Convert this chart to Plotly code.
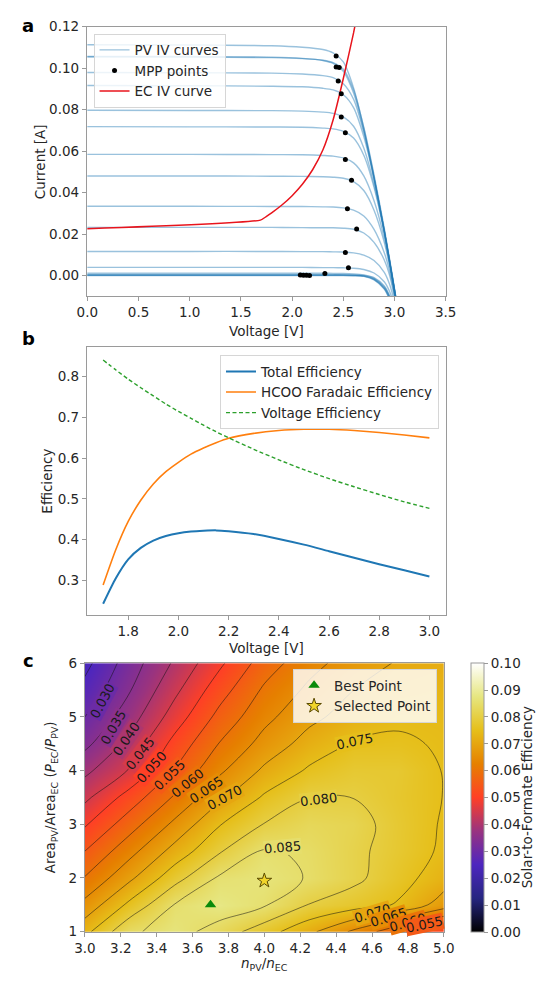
import plotly.graph_objects as go

# ---------------- Panel a data ----------------
pv_v = [0.0, 1.0, 1.8, 2.1, 2.3, 2.4, 2.5, 2.6, 2.7, 2.8, 2.9, 2.95, 3.0, 3.05]
pv_c1 = [0.1113, 0.1112, 0.1108, 0.1101, 0.1090, 0.1074, 0.1030, 0.0905, 0.0710, 0.0475, 0.0215, 0.0075, -0.0070, -0.0220]
pv_c2 = [0.1057, 0.1056, 0.1053, 0.1047, 0.1037, 0.1023, 0.0985, 0.0880, 0.0700, 0.0470, 0.0215, 0.0075, -0.0070, -0.0220]
pv_c3 = [0.1054, 0.1053, 0.1051, 0.1046, 0.1038, 0.1027, 0.0995, 0.0895, 0.0715, 0.0485, 0.0228, 0.0085, -0.0062, -0.0215]
pv_c4 = [0.0979, 0.0978, 0.0976, 0.0972, 0.0964, 0.0954, 0.0925, 0.0850, 0.0690, 0.0470, 0.0215, 0.0075, -0.0070, -0.0220]
pv_c5 = [0.0916, 0.0915, 0.0913, 0.0910, 0.0903, 0.0895, 0.0872, 0.0810, 0.0670, 0.0465, 0.0215, 0.0075, -0.0070, -0.0220]
pv_c6 = [0.0797, 0.0796, 0.0795, 0.0793, 0.0788, 0.0782, 0.0765, 0.0720, 0.0615, 0.0440, 0.0210, 0.0072, -0.0072, -0.0222]
pv_c7 = [0.0718, 0.0717, 0.0716, 0.0715, 0.0711, 0.0707, 0.0695, 0.0663, 0.0580, 0.0425, 0.0205, 0.0070, -0.0074, -0.0224]
pv_c8 = [0.0584, 0.0584, 0.0583, 0.0582, 0.0579, 0.0576, 0.0567, 0.0543, 0.0480, 0.0360, 0.0180, 0.0060, -0.0080, -0.0228]
pv_c9 = [0.0480, 0.0480, 0.0479, 0.0478, 0.0476, 0.0474, 0.0469, 0.0453, 0.0410, 0.0315, 0.0160, 0.0050, -0.0085, -0.0232]
pv_c10 = [0.0334, 0.0334, 0.0333, 0.0333, 0.0331, 0.0330, 0.0326, 0.0315, 0.0287, 0.0222, 0.0110, 0.0025, -0.0095, -0.0240]
pv_c11 = [0.0232, 0.0232, 0.0232, 0.0231, 0.0230, 0.0230, 0.0228, 0.0223, 0.0205, 0.0160, 0.0075, 0.0005, -0.0105, -0.0245]
pv_c12 = [0.0116, 0.0116, 0.0116, 0.0115, 0.0115, 0.0114, 0.0113, 0.0109, 0.0098, 0.0072, 0.0015, -0.0040, -0.0130, -0.0260]
pv_c13 = [0.0039, 0.0039, 0.0039, 0.0039, 0.0038, 0.0038, 0.0037, 0.0035, 0.0029, 0.0012, -0.0030, -0.0075, -0.0150, -0.0270]
pv_c14 = [0.0011, 0.0011, 0.0011, 0.0011, 0.0011, 0.0010, 0.0010, 0.0008, 0.0003, -0.0010, -0.0050, -0.0095, -0.0165, -0.0280]
pv_c15 = [0.0004, 0.0004, 0.0004, 0.0004, 0.0004, 0.0004, 0.0004, 0.0003, 0.0000, -0.0014, -0.0055, -0.0100, -0.0170, -0.0285]
pv_c16 = [0.0002, 0.0002, 0.0002, 0.0002, 0.0002, 0.0002, 0.0002, 0.0001, -0.0002, -0.0017, -0.0060, -0.0105, -0.0175, -0.0290]
pv_c17 = [0.0001, 0.0001, 0.0001, 0.0001, 0.0001, 0.0001, 0.0001, 0.0000, -0.0003, -0.0019, -0.0063, -0.0110, -0.0180, -0.0295]
pv_c18 = [0.0000, 0.0000, 0.0000, 0.0000, 0.0000, 0.0000, 0.0000, -0.0001, -0.0004, -0.0021, -0.0066, -0.0113, -0.0185, -0.0300]
pv_curves = [pv_c1, pv_c2, pv_c3, pv_c4, pv_c5, pv_c6, pv_c7, pv_c8, pv_c9,
             pv_c10, pv_c11, pv_c12, pv_c13, pv_c14, pv_c15, pv_c16, pv_c17, pv_c18]

mpp_v = [2.43, 2.43, 2.46, 2.45, 2.48, 2.48, 2.52, 2.52, 2.58, 2.54, 2.63, 2.52, 2.55, 2.32, 2.08, 2.11, 2.14, 2.17]
mpp_i = [0.1059, 0.1006, 0.1003, 0.0938, 0.0876, 0.0764, 0.0688, 0.0560, 0.0459, 0.0322, 0.0224, 0.0111, 0.0037, 0.0010, 0.0002, 0.0001, 0.0001, 0.0000]

ec_v = [0.0, 1.69, 1.75, 1.8, 1.9, 2.0, 2.1, 2.2, 2.3, 2.4, 2.5, 2.6, 2.7]
ec_i = [0.0225, 0.0267, 0.0285, 0.0302, 0.0340, 0.0385, 0.0440, 0.0510, 0.0605, 0.0750, 0.0950, 0.1170, 0.1420]

# ---------------- Panel b data ----------------
eff_v = [1.7, 1.75, 1.8, 1.85, 1.9, 1.95, 2.0, 2.05, 2.1, 2.15, 2.2, 2.3, 2.4, 2.5, 2.6, 2.7, 2.8, 2.9, 3.0]
total_eff = [0.243, 0.305, 0.352, 0.380, 0.398, 0.409, 0.416, 0.420, 0.422, 0.423, 0.421, 0.414, 0.402, 0.388, 0.372, 0.356, 0.340, 0.325, 0.310]
hcoo_fe = [0.289, 0.375, 0.445, 0.497, 0.537, 0.567, 0.590, 0.610, 0.625, 0.638, 0.649, 0.661, 0.668, 0.671, 0.671, 0.668, 0.663, 0.657, 0.650]
voltage_eff = [0.841, 0.817, 0.794, 0.773, 0.753, 0.733, 0.715, 0.698, 0.681, 0.665, 0.650, 0.622, 0.596, 0.572, 0.550, 0.530, 0.511, 0.493, 0.477]

# ---------------- Panel c data ----------------
ratio_n = [3.0, 3.25, 3.5, 3.75, 4.0, 4.25, 4.5, 4.75, 5.0]
area_ratio = [1.0, 1.5, 2.0, 2.5, 3.0, 3.5, 4.0, 4.5, 5.0, 5.5, 6.0]
ste = [
    [0.0735, 0.0842, 0.0870, 0.0829, 0.0772, 0.0712, 0.0640, 0.0560, 0.0500],
    [0.0665, 0.0762, 0.0852, 0.0880, 0.0855, 0.0798, 0.0773, 0.0745, 0.0675],
    [0.0603, 0.0690, 0.0781, 0.0857, 0.0868, 0.0847, 0.0812, 0.0768, 0.0725],
    [0.0550, 0.0633, 0.0718, 0.0795, 0.0855, 0.0843, 0.0812, 0.0778, 0.0742],
    [0.0494, 0.0578, 0.0661, 0.0747, 0.0802, 0.0828, 0.0818, 0.0780, 0.0745],
    [0.0438, 0.0522, 0.0606, 0.0689, 0.0757, 0.0799, 0.0799, 0.0775, 0.0749],
    [0.0388, 0.0454, 0.0554, 0.0641, 0.0709, 0.0757, 0.0780, 0.0778, 0.0748],
    [0.0337, 0.0415, 0.0516, 0.0602, 0.0668, 0.0720, 0.0755, 0.0757, 0.0745],
    [0.0300, 0.0377, 0.0473, 0.0565, 0.0636, 0.0687, 0.0722, 0.0742, 0.0740],
    [0.0265, 0.0347, 0.0438, 0.0528, 0.0608, 0.0660, 0.0700, 0.0722, 0.0730],
    [0.0235, 0.0325, 0.0407, 0.0490, 0.0574, 0.0633, 0.0674, 0.0705, 0.0715],
]
best_x, best_y = [3.7], [1.5]
sel_x, sel_y = [4.0], [1.95]
cbar_ticks = [0.00, 0.01, 0.02, 0.03, 0.04, 0.05, 0.06, 0.07, 0.08, 0.09, 0.10]

# contour label values and where they sit
clabel_val = [0.030, 0.035, 0.040, 0.045, 0.050, 0.055, 0.060, 0.065, 0.070,
              0.075, 0.080, 0.085, 0.070, 0.065, 0.060, 0.055]
clabel_x = [3.096, 3.159, 3.23, 3.31, 3.37, 3.47, 3.57, 3.68, 3.78,
            4.50, 4.30, 4.10, 4.60, 4.69, 4.80, 4.895]
clabel_y = [5.29, 4.80, 4.58, 4.31, 4.06, 3.91, 3.76, 3.64, 3.50,
            4.55, 3.46, 2.56, 1.33, 1.26, 1.18, 1.13]
clabel_ang = [-62, -60, -56, -52, -48, -44, -39, -34, -29,
              -12, -7, -5, -17, -17, -16, -12]

cmrmap = [
    [0.000, (0, 0, 0)], [0.125, (38, 38, 128)], [0.250, (77, 38, 191)],
    [0.375, (153, 51, 128)], [0.500, (255, 64, 38)], [0.625, (230, 128, 0)],
    [0.750, (230, 191, 26)], [0.875, (230, 230, 128)], [1.000, (255, 255, 255)],
]
cmr_scale = [[p, 'rgb(%d,%d,%d)' % c] for p, c in cmrmap]


def cmr_color(t):
    for (p0, c0), (p1, c1) in zip(cmrmap[:-1], cmrmap[1:]):
        if p0 <= t <= p1:
            f = (t - p0) / (p1 - p0)
            return 'rgb(%d,%d,%d)' % tuple(round(a + (b - a) * f) for a, b in zip(c0, c1))
    return 'rgb(255,255,255)'


W, H = 545, 982
FONT = "DejaVu Sans"
TXT = '#262626'
AX = '#9a9a9a'
FS = 13.5


def px(x):
    return x / W


def py(y):
    return 1 - y / H


fig = go.Figure()

# Panel a traces
for k, cur in enumerate(pv_curves):
    fig.add_trace(go.Scatter(
        x=pv_v, y=cur, mode='lines', line=dict(color='rgba(31,119,180,0.45)', width=1.4, shape='spline', smoothing=0.8),
        name='PV IV curves', legendgroup='pv', showlegend=(k == 0), legend='legend', legendrank=1,
        xaxis='x', yaxis='y', hoverinfo='skip'))
fig.add_trace(go.Scatter(
    x=ec_v, y=ec_i, mode='lines', line=dict(color='#e8141c', width=1.5, shape='spline', smoothing=0.5),
    name='EC IV curve', legend='legend', legendrank=3, xaxis='x', yaxis='y'))
fig.add_trace(go.Scatter(
    x=mpp_v, y=mpp_i, mode='markers', marker=dict(color='black', size=5),
    name='MPP points', legend='legend', legendrank=2, xaxis='x', yaxis='y'))

# Panel b traces
fig.add_trace(go.Scatter(x=eff_v, y=total_eff, mode='lines', name='Total Efficiency',
                         line=dict(color='#1f77b4', width=2, shape='spline', smoothing=0.6),
                         legend='legend2', xaxis='x2', yaxis='y2'))
fig.add_trace(go.Scatter(x=eff_v, y=hcoo_fe, mode='lines', name='HCOO Faradaic Efficiency',
                         line=dict(color='#ff7f0e', width=1.6, shape='spline', smoothing=0.6),
                         legend='legend2', xaxis='x2', yaxis='y2'))
fig.add_trace(go.Scatter(x=eff_v, y=voltage_eff, mode='lines', name='Voltage Efficiency',
                         line=dict(color='#2ca02c', width=1.4, dash='4px,2.5px', shape='spline', smoothing=0.6),
                         legend='legend2', xaxis='x2', yaxis='y2'))

# Panel c traces
fig.add_trace(go.Heatmap(
    x=ratio_n, y=area_ratio, z=ste, zmin=0, zmax=0.1, zsmooth='best', colorscale=cmr_scale,
    xaxis='x3', yaxis='y3', hoverinfo='skip',
    colorbar=dict(x=px(479), xanchor='left', xpad=0, ypad=0, y=py(666), yanchor='top', len=273 / H,
                  lenmode='fraction', thickness=13, thicknessmode='pixels', tickvals=cbar_ticks,
                  ticktext=['%.2f' % t for t in cbar_ticks], ticks='outside', ticklen=4, tickcolor=AX,
                  outlinecolor=AX, outlinewidth=1, tickfont=dict(family=FONT, size=FS, color=TXT))))
fig.add_trace(go.Contour(
    x=ratio_n, y=area_ratio, z=ste, xaxis='x3', yaxis='y3', showscale=False, hoverinfo='skip',
    contours=dict(start=0.025, end=0.085, size=0.005, coloring='lines', showlabels=False),
    colorscale=[[0, 'rgba(20,20,20,0.65)'], [1, 'rgba(20,20,20,0.65)']],
    line=dict(width=0.8, smoothing=1.0), showlegend=False))
fig.add_trace(go.Scatter(x=best_x, y=best_y, mode='markers', name='Best Point',
                         marker=dict(symbol='triangle-up', size=10, color='#0a8a0a'),
                         legend='legend3', xaxis='x3', yaxis='y3'))
fig.add_trace(go.Scatter(x=sel_x, y=sel_y, mode='markers', name='Selected Point',
                         marker=dict(symbol='star', size=11, color='#f2d52a', line=dict(color='#5a4a00', width=1)),
                         legend='legend3', xaxis='x3', yaxis='y3'))

axis_common = dict(showline=True, mirror=True, linecolor=AX, linewidth=1, ticks='outside', ticklen=4,
                   tickcolor=AX, showgrid=False, zeroline=False,
                   tickfont=dict(family=FONT, size=FS, color=TXT))

legend_common = dict(font=dict(family=FONT, size=FS, color=TXT), bgcolor='rgba(255,255,255,0.82)',
                     bordercolor='#d6d6d6', borderwidth=1, itemwidth=30, tracegroupgap=0)

fig.update_layout(
    width=W, height=H, margin=dict(l=0, r=0, t=0, b=0),
    paper_bgcolor='white', plot_bgcolor='white',
    font=dict(family=FONT, size=FS, color=TXT),
    xaxis=dict(domain=[px(79), px(453)], range=[-0.005, 3.5], anchor='y',
               tickvals=[0.0, 0.5, 1.0, 1.5, 2.0, 2.5, 3.0, 3.5], tickformat='.1f', **axis_common),
    yaxis=dict(domain=[py(293), py(19)], range=[-0.01, 0.12], anchor='x',
               tickvals=[0.0, 0.02, 0.04, 0.06, 0.08, 0.10, 0.12], tickformat='.2f', **axis_common),
    xaxis2=dict(domain=[px(79), px(453)], range=[1.635, 3.065], anchor='y2',
                tickvals=[1.8, 2.0, 2.2, 2.4, 2.6, 2.8, 3.0], tickformat='.1f', **axis_common),
    yaxis2=dict(domain=[py(617), py(345)], range=[0.2155, 0.872], anchor='x2',
                tickvals=[0.3, 0.4, 0.5, 0.6, 0.7, 0.8], tickformat='.1f', **axis_common),
    xaxis3=dict(domain=[px(77), px(451)], range=[3.0, 5.0], anchor='y3',
                tickvals=[3.0, 3.2, 3.4, 3.6, 3.8, 4.0, 4.2, 4.4, 4.6, 4.8, 5.0], tickformat='.1f', **axis_common),
    yaxis3=dict(domain=[py(939), py(666)], range=[1.0, 6.0], anchor='x3',
                tickvals=[1, 2, 3, 4, 5, 6], **axis_common),
    legend=dict(x=px(86), y=py(26), xanchor='left', yanchor='top', **legend_common),
    legend2=dict(x=px(446), y=py(353), xanchor='right', yanchor='top', **legend_common),
    legend3=dict(x=px(444), y=py(672), xanchor='right', yanchor='top', **legend_common),
)

# contour labels (background = colour of the map at that level, hiding the line under the text)
for v, lx, ly, ang in zip(clabel_val, clabel_x, clabel_y, clabel_ang):
    fig.add_annotation(text='%.3f' % v, x=lx, y=ly, xref='x3', yref='y3', showarrow=False,
                       textangle=ang, bgcolor=cmr_color(v / 0.1), borderpad=0,
                       font=dict(family=FONT, size=13, color='#1a1a1a'))

annots = [
    dict(text='Voltage [V]', x=px(266), y=py(328), textangle=0),
    dict(text='Current [A]', x=px(31), y=py(156), textangle=-90),
    dict(text='Voltage [V]', x=px(266), y=py(651), textangle=0),
    dict(text='Efficiency', x=px(38), y=py(481), textangle=-90),
    dict(text='<i>n</i><sub>PV</sub>/<i>n</i><sub>EC</sub>', x=px(264), y=py(972), textangle=0),
    dict(text='Area<sub>PV</sub>/Area<sub>EC</sub> (<i>P</i><sub>EC</sub>/<i>P</i><sub>PV</sub>)',
         x=px(42), y=py(802), textangle=-90),
    dict(text='Solar-to-Formate Efficiency', x=px(538), y=py(802), textangle=-90),
]
for a in annots:
    fig.add_annotation(xref='paper', yref='paper', showarrow=False, xanchor='center', yanchor='middle',
                       font=dict(family=FONT, size=FS, color=TXT), **a)
for lab, yy in [('a', 18), ('b', 336), ('c', 663)]:
    fig.add_annotation(text='<b>%s</b>' % lab, xref='paper', yref='paper', x=px(18), y=py(yy),
                       showarrow=False, xanchor='center', yanchor='middle',
                       font=dict(family=FONT, size=18, color='black'))

fig.write_html("out.html")
